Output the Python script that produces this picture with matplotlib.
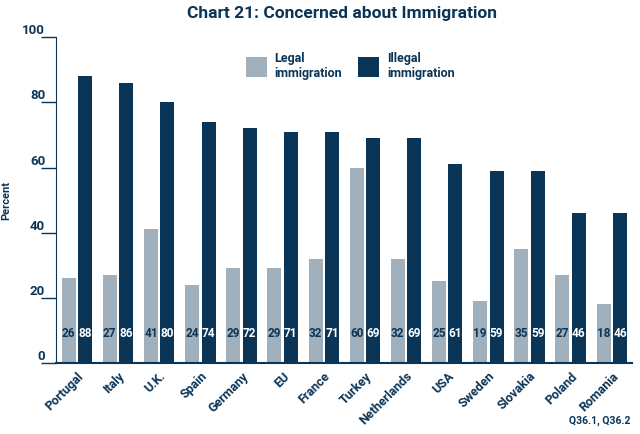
import matplotlib.pyplot as plt
import numpy as np

# data
countries = ["Portugal", "Italy", "U.K.", "Spain", "Germany", "EU", "France",
             "Turkey", "Netherlands", "USA", "Sweden", "Slovakia", "Poland", "Romania"]
legal = [26, 27, 41, 24, 29, 29, 32, 60, 32, 25, 19, 35, 27, 18]
illegal = [88, 86, 80, 74, 72, 71, 71, 69, 69, 61, 59, 59, 46, 46]

dark = "#0b3557"
grey = "#a0b0bd"

plt.rcParams['font.family'] = ['Roboto', 'DejaVu Sans']
plt.rcParams['font.weight'] = 'bold'

fig = plt.figure(figsize=(6.4, 4.34), dpi=100)
ax = fig.add_axes([0.088, 0.164, 0.9, 0.75])

x = np.arange(len(countries))
w = 0.34
ax.bar(x - 0.2, legal, w, color=grey, label="Legal\nimmigration")
ax.bar(x + 0.2, illegal, w, color=dark, label="Illegal\nimmigration")

for xi, v in zip(x, legal):
    ax.text(xi - 0.2, 9, str(v), ha='center', va='center', color=dark,
            fontsize=8.5, fontweight='bold')
for xi, v in zip(x, illegal):
    ax.text(xi + 0.2, 9, str(v), ha='center', va='center', color='white',
            fontsize=8.5, fontweight='bold')

ax.set_xlim(-0.5, len(countries) - 0.5)
ax.set_ylim(0, 100)
ax.set_yticks([0, 20, 40, 60, 80, 100])
ax.tick_params(axis='y', length=11, pad=-3, colors=dark, labelsize=9.5, width=1)
for lab in ax.get_yticklabels():
    lab.set_verticalalignment('bottom')
ax.set_xticks(x)
ax.set_xticklabels(countries, rotation=45, ha='right', rotation_mode='anchor',
                   color=dark, fontsize=9, fontweight='bold')
ax.tick_params(axis='x', length=0, pad=5)

ax.spines['top'].set_visible(False)
ax.spines['right'].set_visible(False)
ax.spines['left'].set_color(dark)
ax.spines['bottom'].set_color(dark)
ax.spines['bottom'].set_linewidth(1.5)

ax.set_ylabel("Percent", color=dark, fontsize=8, fontweight='bold', labelpad=8)

ax.legend(ncol=2, frameon=False, loc='upper center', bbox_to_anchor=(0.51, 0.99),
          handlelength=1.7, handleheight=2.1, columnspacing=1.3, handletextpad=0.6,
          labelcolor=dark, prop={'size': 9, 'weight': 'bold'})

fig.text(0.535, 0.968, "Chart 21: Concerned about Immigration", ha='center', va='center',
         color=dark, fontsize=12.5, fontweight='bold')
fig.text(0.985, 0.03, "Q36.1, Q36.2", ha='right', va='center', color=dark,
         fontsize=7.5, fontweight='bold')

fig.savefig("out.png", dpi=100)
